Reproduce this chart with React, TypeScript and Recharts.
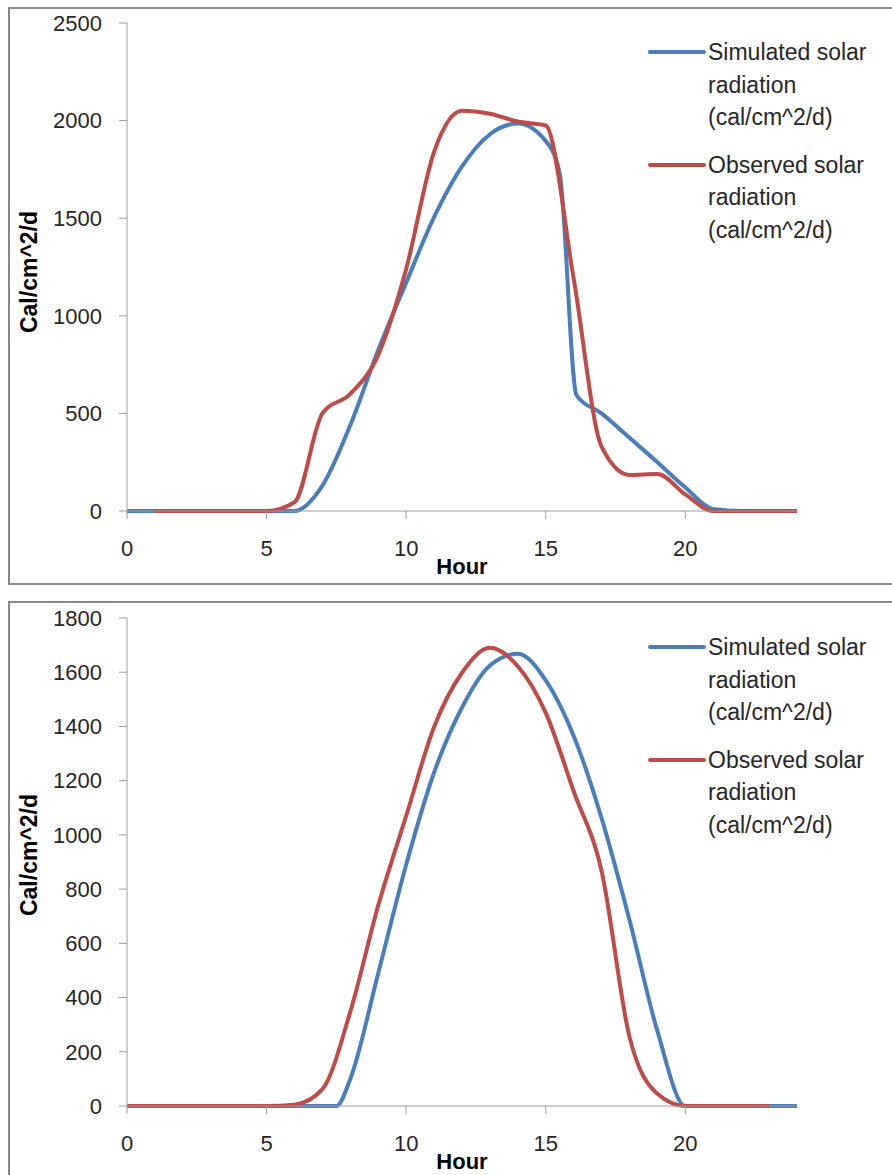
import React from 'react'
import { LineChart, Line, XAxis, YAxis, Legend, Label } from 'recharts'

// hours of day and radiation values (cal/cm^2/d)
const topSimHours = [0, 1, 2, 3, 4, 5, 6, 7, 8, 9, 10, 11, 12, 13, 14, 15, 15.5, 16.1, 17, 18, 19, 20, 21, 22, 23, 24]
const topSimValues = [0, 0, 0, 0, 0, 0, 0, 130, 440, 825, 1170, 1505, 1765, 1930, 1985, 1895, 1730, 594, 500, 375, 250, 120, 10, 0, 0, 0]

const topObsHours = [1, 2, 3, 4, 5, 6, 7, 8, 9, 10, 11, 12, 13, 14, 15, 16, 17, 18, 19, 20, 21, 22, 23, 24]
const topObsValues = [0, 0, 0, 0, 0, 45, 500, 600, 800, 1240, 1840, 2050, 2035, 1995, 1975, 1190, 330, 185, 190, 85, 0, 0, 0, 0]

const bottomSimHours = [0, 1, 2, 3, 4, 5, 6, 7, 7.5, 8, 9, 10, 11, 12, 13, 14, 15, 16, 17, 18, 19, 20, 21, 22, 23, 24]
const bottomSimValues = [0, 0, 0, 0, 0, 0, 0, 0, 0, 100, 490, 890, 1230, 1470, 1625, 1668, 1570, 1365, 1062, 686, 276, 0, 0, 0, 0, 0]

const bottomObsHours = [0, 1, 2, 3, 4, 5, 6, 7, 8, 9, 10, 11, 12, 13, 14, 15, 16, 17, 18, 19, 20, 21, 22, 23]
const bottomObsValues = [0, 0, 0, 0, 0, 0, 5, 62, 348, 740, 1070, 1398, 1598, 1690, 1622, 1450, 1161, 867, 255, 45, 0, 0, 0, 0]

const hourTicks = [0, 5, 10, 15, 20]
const topYTicks = [0, 500, 1000, 1500, 2000, 2500]
const bottomYTicks = [0, 200, 400, 600, 800, 1000, 1200, 1400, 1600, 1800]

const simName = 'Simulated solar radiation (cal/cm^2/d)'
const obsName = 'Observed solar radiation (cal/cm^2/d)'
const legendOrder = [simName, obsName]

const BLUE = '#4a7ebb'
const RED = '#be4b48'
const AXIS = '#9d9d9d'
const FONT = '"Liberation Sans", Arial, sans-serif'

const toPoints = (hours: number[], values: number[]) => hours.map((h, i) => ({ h, v: values[i] }))

function LegendBox({ payload }: any) {
  const items = [...(payload ?? [])].sort(
    (a: any, b: any) => legendOrder.indexOf(a.value) - legendOrder.indexOf(b.value)
  )
  return (
    <div style={{ fontFamily: FONT }}>
      {items.map((entry: any) => (
        <div key={entry.value} style={{ display: 'flex', alignItems: 'flex-start', marginBottom: 15 }}>
          <svg width={60} height={32} style={{ flex: 'none', display: 'block' }}>
            <line x1={2} x2={56} y1={16} y2={16} stroke={entry.color} strokeWidth={4} strokeLinecap="round" />
          </svg>
          <div style={{ width: 178, fontSize: 23, lineHeight: '32.5px', color: '#262626' }}>{entry.value}</div>
        </div>
      ))}
    </div>
  )
}

function SolarChart({
  sim,
  obs,
  yMax,
  yTicks,
  yLabelShift,
}: {
  sim: { h: number; v: number }[]
  obs: { h: number; v: number }[]
  yMax: number
  yTicks: number[]
  yLabelShift: number
}) {
  return (
    <LineChart width={892} height={600} margin={{ top: 23, right: 95, bottom: 49, left: 67 }}>
      <XAxis
        type="number"
        dataKey="h"
        domain={[0, 24]}
        ticks={hourTicks}
        height={40}
        tickSize={8}
        tickMargin={21}
        stroke={AXIS}
        tick={{ fontSize: 22, fill: '#262626', fontFamily: FONT }}
      >
        <Label value="Hour" position="bottom" offset={7} fontSize={22} fontWeight={700} fill="#000" fontFamily={FONT} />
      </XAxis>
      <YAxis
        type="number"
        domain={[0, yMax]}
        ticks={yTicks}
        width={60}
        tickSize={8}
        tickMargin={17}
        stroke={AXIS}
        tick={{ fontSize: 22, fill: '#262626', fontFamily: FONT }}
      >
        <Label
          value="Cal/cm^2/d"
          angle={-90}
          position="center"
          dx={-68}
          dy={yLabelShift}
          fontSize={23}
          fontWeight={700}
          fill="#000"
          fontFamily={FONT}
        />
      </YAxis>
      <Legend
        layout="horizontal"
        verticalAlign="middle"
        align="center"
        content={<LegendBox />}
        wrapperStyle={{ left: 648, top: 36, right: 'auto', bottom: 'auto', width: 240 }}
      />
      <Line
        data={sim}
        name={simName}
        type="monotone"
        dataKey="v"
        stroke={BLUE}
        strokeWidth={4}
        dot={false}
        isAnimationActive={false}
      />
      <Line
        data={obs}
        name={obsName}
        type="monotone"
        dataKey="v"
        stroke={RED}
        strokeWidth={4}
        dot={false}
        isAnimationActive={false}
      />
    </LineChart>
  )
}

export default function App() {
  const panel: React.CSSProperties = {
    position: 'absolute',
    left: 8,
    width: 900,
    border: '2px solid #878787',
    boxSizing: 'border-box',
    background: '#fff',
  }
  return (
    <div style={{ position: 'relative', width: 892, height: 1175, overflow: 'hidden', background: '#fff' }}>
      <style>{'body{margin:0;overflow:hidden}'}</style>
      <div style={{ ...panel, top: 7, height: 578 }} />
      <div style={{ ...panel, top: 601, height: 700 }} />
      <div style={{ position: 'absolute', left: 0, top: 0 }}>
        <SolarChart
          sim={toPoints(topSimHours, topSimValues)}
          obs={toPoints(topObsHours, topObsValues)}
          yMax={2500}
          yTicks={topYTicks}
          yLabelShift={5}
        />
      </div>
      <div style={{ position: 'absolute', left: 0, top: 595 }}>
        <SolarChart
          sim={toPoints(bottomSimHours, bottomSimValues)}
          obs={toPoints(bottomObsHours, bottomObsValues)}
          yMax={1800}
          yTicks={bottomYTicks}
          yLabelShift={-7}
        />
      </div>
    </div>
  )
}
